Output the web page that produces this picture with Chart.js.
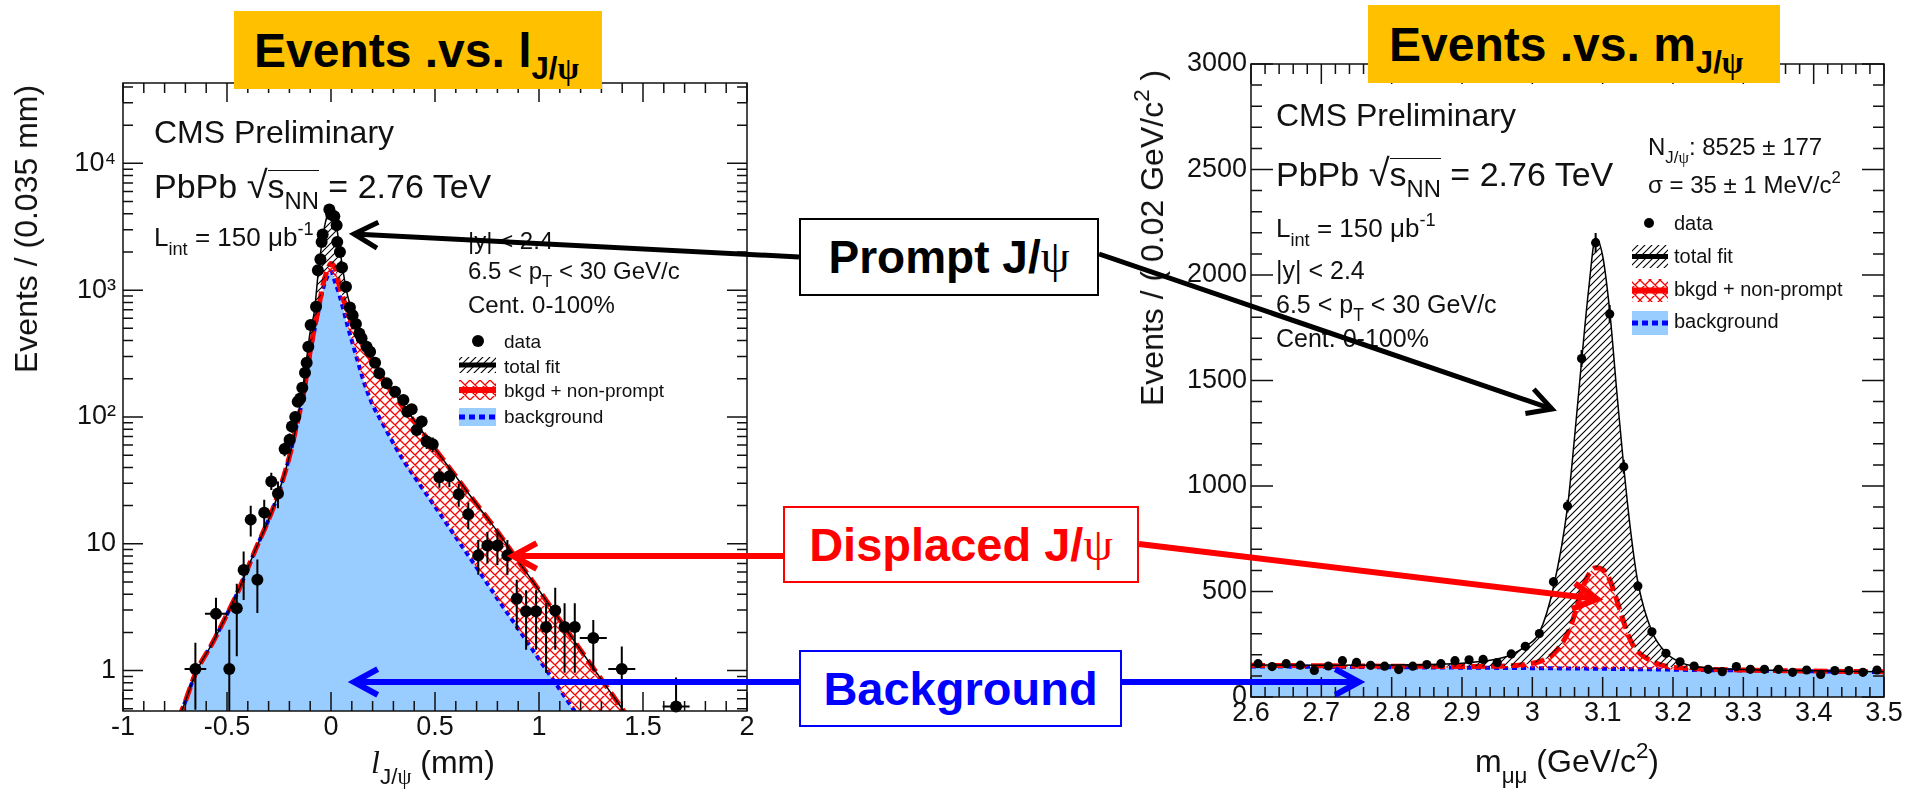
<!DOCTYPE html>
<html>
<head>
<meta charset="utf-8">
<title>J/psi lifetime and mass fits</title>
<script src="https://cdn.jsdelivr.net/npm/chart.js@4.4.0/dist/chart.umd.min.js"></script>
<style>
  html, body { margin: 0; padding: 0; background: #fff; }
  body { width: 1911px; height: 801px; position: relative; overflow: hidden;
         font-family: "Liberation Sans", Arial, Helvetica, sans-serif; color: #111; }
  canvas { position: absolute; top: 0; }
  #cL { left: 0; }
  #cR { left: 1120px; }
  .t { position: absolute; white-space: nowrap; line-height: 1; }
  .sb { font-size: .7em; position: relative; top: .48em; }
  .sp { font-size: .7em; position: relative; top: -.62em; }
  .serif { font-family: "Liberation Serif", "Times New Roman", serif; }
  .it { font-style: italic; }
  .rot { transform: translate(-50%, -50%) rotate(-90deg); }
  .ctr { transform: translateX(-50%); }
  .rad { font-size: 1.12em; }
  .ov { display: inline-block; border-top: 1.6px solid #111; line-height: .92; }
  .ttl { position: absolute; background: #ffc000; }
  .ttx { position: absolute; white-space: nowrap; line-height: 1; font-size: 48px; font-weight: bold; color: #000; }
  .tsub { font-size: .65em; position: relative; top: .4em; }
  .note { position: absolute; box-sizing: border-box; background: #fff; border: 2px solid;
          display: flex; align-items: center; justify-content: center;
          font-weight: bold; line-height: 1; white-space: nowrap; }
  .psi { font-family: "Liberation Serif", "Times New Roman", serif; font-weight: normal; }
  #arrows { position: absolute; left: 0; top: 0; }
</style>
</head>
<body>
<canvas id="cL" width="770" height="801"></canvas>
<canvas id="cR" width="791" height="801"></canvas>

<!-- lifetime panel texts -->
<div class="t" style="left:154px;top:116px;font-size:32px">CMS Preliminary</div>
<div class="t" style="left:154px;top:166px;font-size:34px">PbPb <span class="rad">√</span><span class="ov">s<span class="sb">NN</span></span> = 2.76 TeV</div>
<div class="t" style="left:154px;top:224px;font-size:26px">L<span class="sb">int</span> = 150 μb<span class="sp">-1</span></div>
<div class="t" style="left:468px;top:229px;font-size:24px">|y| &lt; 2.4</div>
<div class="t" style="left:468px;top:259px;font-size:24px">6.5 &lt; p<span class="sb">T</span> &lt; 30 GeV/c</div>
<div class="t" style="left:468px;top:293px;font-size:24px">Cent. 0-100%</div>
<div class="t" style="left:504px;top:332px;font-size:19px">data</div>
<div class="t" style="left:504px;top:357px;font-size:19px">total fit</div>
<div class="t" style="left:504px;top:381px;font-size:19px">bkgd + non-prompt</div>
<div class="t" style="left:504px;top:407px;font-size:19px">background</div>
<div class="t rot" style="left:26px;top:229px;font-size:32px">Events / (0.035 mm)</div>
<div class="t ctr" style="left:433px;top:746px;font-size:32px"><span class="serif it">l</span><span class="sb">J/<span class="serif">ψ</span></span> (mm)</div>

<!-- mass panel texts -->
<div class="t" style="left:1276px;top:99px;font-size:32px">CMS Preliminary</div>
<div class="t" style="left:1276px;top:154px;font-size:34px">PbPb <span class="rad">√</span><span class="ov">s<span class="sb">NN</span></span> = 2.76 TeV</div>
<div class="t" style="left:1276px;top:215px;font-size:26px">L<span class="sb">int</span> = 150 μb<span class="sp">-1</span></div>
<div class="t" style="left:1276px;top:258px;font-size:25px">|y| &lt; 2.4</div>
<div class="t" style="left:1276px;top:292px;font-size:25px">6.5 &lt; p<span class="sb">T</span> &lt; 30 GeV/c</div>
<div class="t" style="left:1276px;top:326px;font-size:25px">Cent. 0-100%</div>
<div class="t" style="left:1648px;top:135px;font-size:24px">N<span class="sb">J/<span class="serif">ψ</span></span>: 8525 ± 177</div>
<div class="t" style="left:1648px;top:173px;font-size:24px">σ = 35 ± 1 MeV/c<span class="sp">2</span></div>
<div class="t" style="left:1674px;top:213px;font-size:20px">data</div>
<div class="t" style="left:1674px;top:246px;font-size:20px">total fit</div>
<div class="t" style="left:1674px;top:279px;font-size:20px">bkgd + non-prompt</div>
<div class="t" style="left:1674px;top:311px;font-size:20px">background</div>
<div class="t rot" style="left:1152px;top:238px;font-size:32px">Events / ( 0.02 GeV/c<span class="sp">2</span> )</div>
<div class="t ctr" style="left:1567px;top:745px;font-size:32px">m<span class="sb">μμ</span> (GeV/c<span class="sp">2</span>)</div>

<!-- panel headings -->
<div class="ttl" style="left:234px;top:11px;width:368px;height:78px"></div>
<div class="ttx" style="left:254px;top:27px">Events .vs. l<span class="tsub">J/<span class="serif">ψ</span></span></div>
<div class="ttl" style="left:1368px;top:5px;width:412px;height:78px"></div>
<div class="ttx" style="left:1389px;top:21px">Events .vs. m<span class="tsub">J/<span class="serif">ψ</span></span></div>

<svg id="arrows" width="1911" height="801"></svg>

<div class="note" style="left:799px;top:218px;width:300px;height:78px;border-color:#000;color:#000;font-size:46px">Prompt J/<span class="psi">ψ</span></div>
<div class="note" style="left:783px;top:506px;width:356px;height:77px;border-color:#ff0000;color:#ff0000;font-size:47px">Displaced J/<span class="psi">ψ</span></div>
<div class="note" style="left:799px;top:650px;width:323px;height:77px;border-color:#0000ff;color:#0000ff;font-size:47px">Background</div>

<script>
// ---------------- pseudo-proper decay length l_J/psi (mm), log y ----------------
const lifeX = [-0.652, -0.553, -0.489, -0.453, -0.420, -0.386, -0.354, -0.321, -0.287, -0.255,
  -0.223, -0.199, -0.188, -0.172, -0.160, -0.148, -0.138, -0.125, -0.117, -0.109,
  -0.098, -0.072, -0.063, -0.051, -0.045, -0.040, -0.008, 0.001, 0.016, 0.027,
  0.030, 0.043, 0.053, 0.072, 0.091, 0.104, 0.120, 0.136, 0.147, 0.171,
  0.188, 0.212, 0.232, 0.268, 0.308, 0.348, 0.367, 0.388, 0.412, 0.436,
  0.460, 0.489, 0.521, 0.569, 0.614, 0.660, 0.708, 0.752, 0.800, 0.848,
  0.893, 0.938, 0.986, 1.034, 1.078, 1.123, 1.172, 1.261, 1.398, 1.659];
const lifeY = [1.03, 2.8, 1.03, 3.1, 6.2, 15.5, 5.2, 17.6, 31, 24.9,
  56, 66, 84, 100, 132, 140, 170, 223, 268, 358,
  530, 739, 1437, 1754, 2400, 2747, 4318, 3945, 3826, 3250,
  2400, 2003, 1510, 1062, 731, 635, 540, 456, 417, 358,
  327, 268, 221, 184, 158, 136, 110, 115, 79, 92,
  64, 61, 33.5, 34, 24.6, 17.1, 8.1, 9.7, 9.7, 8.1,
  3.69, 2.93, 2.93, 2.21, 2.98, 2.21, 2.21, 1.81, 1.03, 0.52];
const lifeLo = [0.49, 1.82, 0.30, 1.30, 3.6, 11.4, 2.85, 13.3, 26.6, 19.1,
  49, 58, 75, 90, 121, 128, 157, 208, 252, 339,
  507, 712, 1399, 1712, 2351, 2695, 4252, 3882, 3764, 3193,
  2351, 1958, 1471, 1029, 704, 610, 517, 435, 397, 339,
  309, 252, 206, 170, 145, 124, 100, 104, 70, 82,
  56, 53, 27.7, 28, 19.6, 13, 5.7, 7.0, 6.8, 5.7,
  2.1, 1.46, 1.46, 0.96, 1.46, 0.96, 0.96, 1.0, 0.30, 0.20];
const lifeHi = [1.66, 3.76, 2.10, 4.84, 8.7, 19.9, 7.5, 22.2, 36.3, 31,
  63, 74, 93, 110, 143, 152, 183, 238, 284, 377,
  553, 766, 1475, 1796, 2449, 2799, 4384, 4008, 3888, 3307,
  2449, 2048, 1549, 1095, 758, 660, 563, 477, 437, 377,
  345, 284, 236, 198, 171, 148, 120, 126, 88, 102,
  72, 69, 39.3, 40, 29.6, 21.2, 10.7, 12.4, 12.4, 10.7,
  5.2, 4.3, 4.3, 3.4, 4.5, 3.4, 3.4, 2.5, 1.55, 0.88];
const lifeXErr = [0.052, 0.053, 0, 0, 0, 0, 0, 0, 0, 0,
  0, 0, 0, 0, 0, 0, 0, 0, 0, 0,
  0, 0, 0, 0, 0, 0, 0, 0, 0, 0,
  0, 0, 0, 0, 0, 0, 0, 0, 0, 0,
  0, 0, 0, 0, 0, 0, 0, 0, 0, 0,
  0, 0, 0, 0, 0, 0, 0, 0, 0, 0,
  0, 0, 0, 0, 0, 0, 0, 0.065, 0.065, 0.065];

const lifeFitX = [-0.78, -0.716, -0.65, -0.57, -0.49, -0.45, -0.36, -0.30, -0.25, -0.20,
  -0.17, -0.13, -0.10, -0.08, -0.06, -0.04, -0.02, 0, 0.02, 0.04,
  0.06, 0.08, 0.10, 0.13, 0.16, 0.20, 0.25, 0.30, 0.35, 0.40,
  0.50, 0.60, 0.70, 0.80, 0.90, 1.00, 1.10, 1.20, 1.30, 1.40, 1.50];
const lifeTotal = [0.30, 0.49, 0.96, 1.65, 3.0, 4.1, 9.25, 15.5, 25.8, 49,
  80, 195, 470, 680, 1450, 2600, 3800, 4300, 3700, 2250,
  1350, 900, 700, 490, 390, 300, 208, 157, 122, 94,
  56, 34, 20.5, 12.5, 7.3, 4.3, 2.5, 1.45, 0.85, 0.50, 0.29];
const lifeNonPrompt = [0.30, 0.49, 0.96, 1.65, 3.0, 4.1, 9.25, 15.5, 25.8, 48.7,
  79, 160, 330, 500, 720, 1080, 1400, 1625, 1480, 1100,
  850, 680, 545, 430, 350, 270, 200, 150, 118, 92,
  56, 34, 20.5, 12.5, 7.3, 4.3, 2.5, 1.45, 0.85, 0.50, 0.29];
const lifeBkg = [0.30, 0.49, 0.96, 1.65, 3.0, 4.1, 9.25, 15.5, 25.8, 48.7,
  79, 158, 320, 480, 690, 1000, 1250, 1400, 1150, 920,
  700, 520, 400, 270, 185, 125, 88, 62, 45, 34,
  19.7, 11.3, 6.5, 3.7, 2.14, 1.23, 0.71, 0.41, 0.24, 0.14, 0.08];

const lifeTicksX = [-1, -0.5, 0, 0.5, 1, 1.5, 2];
const lifeTickLabelsX = ['-1', '-0.5', '0', '0.5', '1', '1.5', '2'];
const lifeTicksY = [1, 10, 100, 1000, 10000];
const lifeTickLabelsY = ['1', '10', '10²', '10³', '10⁴'];

// ---------------- dimuon invariant mass (GeV/c^2), linear y ----------------
const massX = [2.61, 2.63, 2.65, 2.67, 2.69, 2.71, 2.73, 2.75, 2.77, 2.79,
  2.81, 2.83, 2.85, 2.87, 2.89, 2.91, 2.93, 2.95, 2.97, 2.99,
  3.01, 3.03, 3.05, 3.07, 3.09, 3.11, 3.13, 3.15, 3.17, 3.19,
  3.21, 3.23, 3.25, 3.27, 3.29, 3.31, 3.33, 3.35, 3.37, 3.39,
  3.41, 3.43, 3.45, 3.47, 3.49];
const massY = [158, 144, 158, 151, 126, 147, 172, 164, 150, 146,
  130, 146, 154, 158, 172, 176, 178, 163, 204, 240,
  301, 546, 905, 1604, 2153, 1815, 1091, 526, 309, 207,
  167, 147, 131, 120, 144, 131, 131, 131, 117, 128,
  107, 125, 125, 117, 128];
const massErr = [13, 12, 13, 12, 11, 12, 13, 13, 12, 12,
  11, 12, 12, 13, 13, 13, 13, 13, 14, 15,
  17, 23, 30, 40, 46, 43, 33, 23, 18, 14,
  13, 12, 11, 11, 12, 11, 11, 11, 11, 11,
  10, 11, 11, 11, 11];

const massFitX = [2.6, 2.7, 2.8, 2.9, 2.95, 2.97, 2.99, 3.01, 3.03, 3.05,
  3.06, 3.07, 3.08, 3.09, 3.10, 3.11, 3.12, 3.13, 3.14, 3.15,
  3.17, 3.19, 3.21, 3.23, 3.3, 3.4, 3.5];
const massTotal = [152, 150, 152, 160, 180, 200, 240, 305, 520, 900,
  1230, 1590, 1930, 2175, 2090, 1830, 1450, 1090, 780, 545,
  310, 210, 165, 146, 130, 124, 120];
const massNonPrompt = [150, 148, 146, 145, 146, 148, 155, 168, 205, 300,
  390, 505, 580, 612, 605, 555, 460, 355, 265, 215,
  170, 146, 138, 134, 128, 123, 120];
const massBkg = [145, 143, 141, 139, 138, 137, 137, 136, 136, 135,
  135, 135, 134, 134, 134, 133, 133, 133, 132, 132,
  131, 130, 129, 128, 126, 122, 118];

const massTicksX = [2.6, 2.7, 2.8, 2.9, 3.0, 3.1, 3.2, 3.3, 3.4, 3.5];
const massTickLabelsX = ['2.6', '2.7', '2.8', '2.9', '3', '3.1', '3.2', '3.3', '3.4', '3.5'];
const massTicksY = [0, 500, 1000, 1500, 2000, 2500, 3000];
const massTickLabelsY = ['0', '500', '1000', '1500', '2000', '2500', '3000'];

// ---------------- shared styling ----------------
const FONT = '"Liberation Sans", Arial, Helvetica, sans-serif';
Chart.defaults.font.family = FONT;
Chart.defaults.color = '#111';
const BKG_FILL = '#99ccff';
const X_AXIS_BAND = 44;   // height reserved under each frame for the x tick labels

function pts(xs, ys) { return xs.map((x, i) => ({ x, y: ys[i] })); }

function makePattern(ctx, color, lw, size, cross) {
  const c = document.createElement('canvas');
  c.width = c.height = size;
  const g = c.getContext('2d');
  g.strokeStyle = color; g.lineWidth = lw;
  g.beginPath();
  g.moveTo(-1, size + 1); g.lineTo(size + 1, -1);
  g.moveTo(-2, 2); g.lineTo(2, -2);
  g.moveTo(size - 2, size + 2); g.lineTo(size + 2, size - 2);
  if (cross) {
    g.moveTo(-1, -1); g.lineTo(size + 1, size + 1);
    g.moveTo(size - 2, -2); g.lineTo(size + 2, 2);
    g.moveTo(-2, size - 2); g.lineTo(2, size + 2);
  }
  g.stroke();
  return ctx.createPattern(c, 'repeat');
}

// vertical / horizontal error bars under the data markers
const errorBars = {
  id: 'errorBars',
  beforeDatasetDraw(chart, args) {
    if (args.index !== 0) return;
    const ds = chart.data.datasets[0];
    const { ctx, chartArea: a, scales: { x, y } } = chart;
    ctx.save();
    ctx.beginPath(); ctx.rect(a.left, a.top, a.right - a.left, a.bottom - a.top); ctx.clip();
    ctx.strokeStyle = '#000'; ctx.lineWidth = ds.barWidth;
    ctx.beginPath();
    ds.data.forEach((p, i) => {
      const px = x.getPixelForValue(p.x);
      const py = y.getPixelForValue(p.y);
      const lo = ds.errLo[i] > 0 ? y.getPixelForValue(ds.errLo[i]) : a.bottom + 5;
      const hi = y.getPixelForValue(ds.errHi[i]);
      ctx.moveTo(px, Math.min(lo, a.bottom + 5)); ctx.lineTo(px, hi);
      if (ds.errX && ds.errX[i] > 0) {
        ctx.moveTo(x.getPixelForValue(p.x - ds.errX[i]), py);
        ctx.lineTo(x.getPixelForValue(p.x + ds.errX[i]), py);
      }
    });
    ctx.stroke();
    ctx.restore();
  }
};

// frame with inward ticks on all four sides
function frameTicks(cfg) {
  return {
    id: 'frameTicks',
    afterDatasetsDraw(chart) {
      const { ctx, chartArea: a, scales: { x, y } } = chart;
      ctx.save();
      ctx.strokeStyle = '#111'; ctx.lineWidth = 1.5;
      ctx.beginPath();
      const xt = (v, len) => { const p = x.getPixelForValue(v);
        ctx.moveTo(p, a.bottom); ctx.lineTo(p, a.bottom - len);
        ctx.moveTo(p, a.top); ctx.lineTo(p, a.top + len); };
      const yt = (v, len) => { const p = y.getPixelForValue(v);
        if (p < a.top - 0.5 || p > a.bottom + 0.5) return;
        ctx.moveTo(a.left, p); ctx.lineTo(a.left + len, p);
        ctx.moveTo(a.right, p); ctx.lineTo(a.right - len, p); };
      cfg.xMinor.forEach(v => xt(v, cfg.xMinorLen));
      cfg.xMajor.forEach(v => xt(v, cfg.xMajorLen));
      cfg.yMinor.forEach(v => yt(v, cfg.yMinorLen));
      cfg.yMajor.forEach(v => yt(v, cfg.yMajorLen));
      ctx.stroke();
      ctx.strokeRect(a.left, a.top, a.right - a.left, a.bottom - a.top);
      ctx.restore();
    }
  };
}

// legend symbols drawn inside each frame
function legendSymbols(L) {
  return {
    id: 'legendSymbols',
    afterDraw(chart) {
      const g = chart.ctx;
      g.save();
      g.fillStyle = '#000';
      g.beginPath(); g.arc(L.dot[0], L.dot[1], L.dot[2], 0, Math.PI * 2); g.fill();
      let [x, y, w, h] = L.total;
      g.fillStyle = L.black; g.fillRect(x, y, w, h);
      g.strokeStyle = '#000'; g.lineWidth = 5;
      g.beginPath(); g.moveTo(x, y + h / 2); g.lineTo(x + w, y + h / 2); g.stroke();
      [x, y, w, h] = L.nonPrompt;
      g.fillStyle = L.red; g.fillRect(x, y, w, h);
      g.strokeStyle = '#ff0000'; g.lineWidth = 6;
      g.beginPath(); g.moveTo(x, y + h / 2); g.lineTo(x + w, y + h / 2); g.stroke();
      [x, y, w, h] = L.bkg;
      g.fillStyle = BKG_FILL; g.fillRect(x, y, w, h);
      g.strokeStyle = '#0000ff'; g.lineWidth = 5; g.setLineDash([6, 4]);
      g.beginPath(); g.moveTo(x, y + h / 2); g.lineTo(x + w, y + h / 2); g.stroke();
      g.restore();
    }
  };
}

function scaleX(min, max, ticks, labels) {
  return {
    type: 'linear', min, max,
    grid: { display: false, drawTicks: false }, border: { display: false },
    ticks: { padding: 0, autoSkip: false, maxRotation: 0, font: { size: 27 }, color: '#111',
             callback: (v, i) => labels[i] },
    afterBuildTicks: s => { s.ticks = ticks.map(v => ({ value: v })); },
    afterFit: s => { s.height = X_AXIS_BAND; }
  };
}
function scaleY(type, min, max, ticks, labels, width, pad) {
  return {
    type, min, max,
    grid: { display: false, drawTicks: false }, border: { display: false },
    ticks: { padding: pad, autoSkip: false, font: { size: 27 }, color: '#111',
             callback: (v, i) => labels[i] },
    afterBuildTicks: s => { s.ticks = ticks.map(v => ({ value: v })); },
    afterFit: s => { s.width = width; }
  };
}

function datasets(d) {
  return [
    { label: 'data', data: d.data, showLine: false, pointRadius: d.r, pointHoverRadius: d.r,
      pointBackgroundColor: '#000', pointBorderColor: '#000', pointBorderWidth: 0,
      errLo: d.lo, errHi: d.hi, errX: d.xerr, barWidth: 2, clip: 10 },
    { label: 'total fit', data: d.total, borderColor: '#000', borderWidth: 1.5, pointRadius: 0,
      fill: '+1', backgroundColor: d.black, cubicInterpolationMode: 'monotone', clip: 0 },
    { label: 'bkgd + non-prompt', data: d.nonPrompt, borderColor: '#ff0000', borderWidth: 5,
      borderDash: [14, 6], pointRadius: 0, fill: '+1', backgroundColor: d.red,
      cubicInterpolationMode: 'monotone', clip: 0 },
    { label: 'background', data: d.bkg, borderColor: '#0000ff', borderWidth: 4,
      borderDash: [5, 4], pointRadius: 0, fill: 'start', backgroundColor: BKG_FILL,
      cubicInterpolationMode: 'monotone', clip: 0 }
  ];
}

const common = { responsive: false, animation: false, devicePixelRatio: 1, events: [],
  plugins: { legend: { display: false }, tooltip: { enabled: false } } };

// ---------------- lifetime chart ----------------
const ctxL = document.getElementById('cL').getContext('2d');
const blackL = makePattern(ctxL, '#000', 1.1, 7, false);
const redL = makePattern(ctxL, '#ff0000', 1.3, 10, true);
const lifeXMinor = []; for (let k = -10; k <= 20; k++) lifeXMinor.push(k / 10);
const lifeYMinor = []; [0.1, 1, 10, 100, 1000, 10000].forEach(d => { for (let m = 2; m <= 9; m++) lifeYMinor.push(m * d); });

new Chart(ctxL, {
  type: 'line',
  data: { datasets: datasets({
    data: pts(lifeX, lifeY), lo: lifeLo, hi: lifeHi, xerr: lifeXErr, r: 6,
    total: pts(lifeFitX, lifeTotal), nonPrompt: pts(lifeFitX, lifeNonPrompt), bkg: pts(lifeFitX, lifeBkg),
    black: blackL, red: redL }) },
  options: Object.assign({}, common, {
    layout: { padding: { top: 83, right: 23, bottom: 90 - X_AXIS_BAND, left: 0 } },
    scales: {
      x: scaleX(-1, 2, lifeTicksX, lifeTickLabelsX),
      y: scaleY('logarithmic', 0.48, 43000, lifeTicksY, lifeTickLabelsY, 123, 7)
    }
  }),
  plugins: [errorBars,
    frameTicks({ xMajor: lifeTicksX, xMinor: lifeXMinor, xMajorLen: 19, xMinorLen: 10,
                 yMajor: lifeTicksY, yMinor: lifeYMinor, yMajorLen: 20, yMinorLen: 10 }),
    legendSymbols({ dot: [478, 341, 6], total: [459, 357, 37, 16], nonPrompt: [459, 380, 37, 20],
                    bkg: [459, 408, 37, 18], black: blackL, red: redL })]
});

// ---------------- mass chart ----------------
const ctxR = document.getElementById('cR').getContext('2d');
const blackR = makePattern(ctxR, '#000', 1.1, 7, false);
const redR = makePattern(ctxR, '#ff0000', 1.3, 10, true);
const massXMinor = []; for (let k = 130; k <= 175; k++) massXMinor.push(k / 50);
const massYMinor = []; for (let k = 0; k <= 30; k++) massYMinor.push(k * 100);

new Chart(ctxR, {
  type: 'line',
  data: { datasets: datasets({
    data: pts(massX, massY), lo: massY.map((v, i) => v - massErr[i]), hi: massY.map((v, i) => v + massErr[i]),
    xerr: null, r: 4.6,
    total: pts(massFitX, massTotal), nonPrompt: pts(massFitX, massNonPrompt), bkg: pts(massFitX, massBkg),
    black: blackR, red: redR }) },
  options: Object.assign({}, common, {
    layout: { padding: { top: 64, right: 27, bottom: 104 - X_AXIS_BAND, left: 0 } },
    scales: {
      x: scaleX(2.6, 3.5, massTicksX, massTickLabelsX),
      y: scaleY('linear', 0, 3000, massTicksY, massTickLabelsY, 131, 4)
    }
  }),
  plugins: [errorBars,
    frameTicks({ xMajor: massTicksX, xMinor: massXMinor, xMajorLen: 20, xMinorLen: 10,
                 yMajor: massTicksY, yMinor: massYMinor, yMajorLen: 22, yMinorLen: 11 }),
    legendSymbols({ dot: [529, 223, 5], total: [512, 245, 36, 23], nonPrompt: [512, 279, 36, 23],
                    bkg: [512, 311, 36, 24], black: blackR, red: redR })]
});

// ---------------- call-out arrows ----------------
const svg = document.getElementById('arrows');
const NS = 'http://www.w3.org/2000/svg';
function arrow(x1, y1, x2, y2, color, w) {
  const back = Math.atan2(y1 - y2, x1 - x2), L = 27, h = 0.5;
  const a1 = [x2 + L * Math.cos(back + h), y2 + L * Math.sin(back + h)];
  const a2 = [x2 + L * Math.cos(back - h), y2 + L * Math.sin(back - h)];
  const line = document.createElementNS(NS, 'line');
  line.setAttribute('x1', x1); line.setAttribute('y1', y1);
  line.setAttribute('x2', x2); line.setAttribute('y2', y2);
  line.setAttribute('stroke', color); line.setAttribute('stroke-width', w);
  svg.appendChild(line);
  const head = document.createElementNS(NS, 'polyline');
  head.setAttribute('points', `${a1[0]},${a1[1]} ${x2},${y2} ${a2[0]},${a2[1]}`);
  head.setAttribute('fill', 'none'); head.setAttribute('stroke', color);
  head.setAttribute('stroke-width', w); head.setAttribute('stroke-linejoin', 'miter');
  svg.appendChild(head);
}
arrow(799, 257, 354, 234, '#000', 5);
arrow(1099, 254, 1552, 409, '#000', 5);
arrow(783, 556, 513, 556, '#ff0000', 6);
arrow(1139, 544, 1597, 599, '#ff0000', 6);
arrow(799, 682, 354, 682, '#0000ff', 6);
arrow(1122, 682, 1359, 682, '#0000ff', 6);
</script>
</body>
</html>
